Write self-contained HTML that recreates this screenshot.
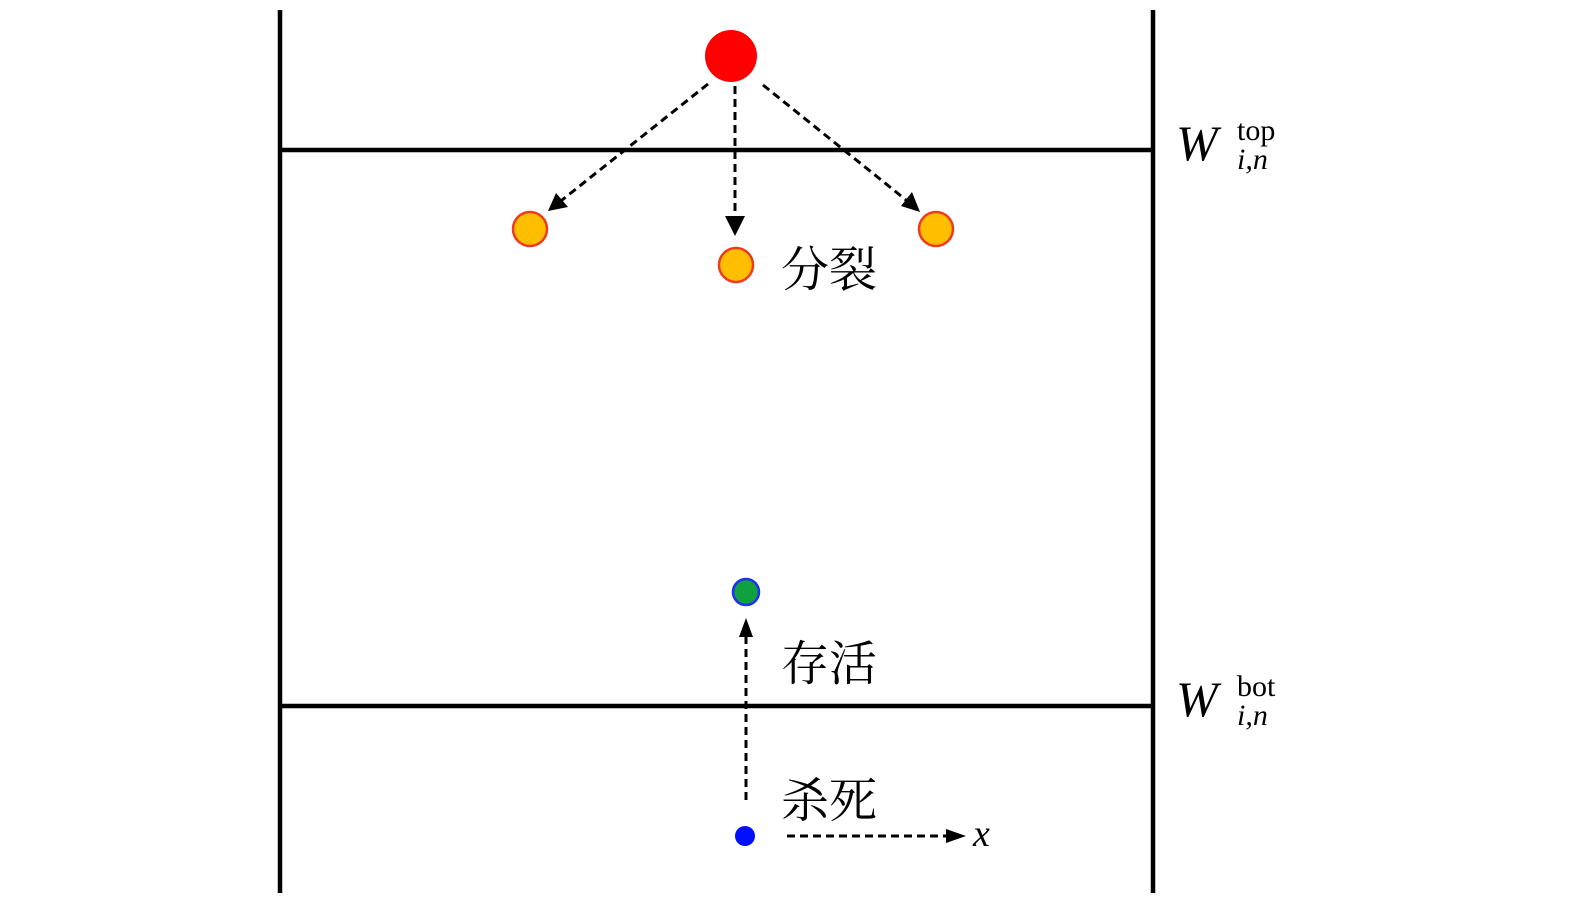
<!DOCTYPE html>
<html><head><meta charset="utf-8"><style>
html,body{margin:0;padding:0;background:#fff;}
svg{display:block;}
</style></head><body>
<svg width="1575" height="906" viewBox="0 0 1575 906" xmlns="http://www.w3.org/2000/svg">
<g stroke="#000" stroke-width="4.5" fill="none">
<line x1="280" y1="10" x2="280" y2="893"/>
<line x1="1153" y1="10" x2="1153" y2="893"/>
<line x1="280" y1="150" x2="1153" y2="150"/>
<line x1="280" y1="706" x2="1153" y2="706"/>
</g>
<g stroke="#000" stroke-width="3" stroke-dasharray="8,5" fill="none">
<line x1="708" y1="84" x2="552" y2="208"/>
<line x1="735" y1="86" x2="735" y2="225"/>
<line x1="763" y1="85" x2="916" y2="208"/>
<line x1="746" y1="800" x2="746" y2="630"/>
<line x1="787" y1="836" x2="955" y2="836"/>
</g>
<g fill="#000">
<path d="M548,211 L556,193 L568,207 z"/>
<path d="M725,216 L745,216 L735,236 z"/>
<path d="M920,212 L901,206 L912,192 z"/>
<path d="M746,618 L739,637 L753,637 z"/>
<path d="M966,836 L946,829 L946,843 z"/>
</g>
<circle cx="731" cy="56" r="26" fill="#f00"/>
<g fill="#ffbf00" stroke="#f03a20" stroke-width="2.5">
<circle cx="530" cy="229" r="17"/>
<circle cx="736" cy="265" r="17"/>
<circle cx="936" cy="229" r="17"/>
</g>
<circle cx="746" cy="592" r="13" fill="#10a040" stroke="#2030f0" stroke-width="2.5"/>
<circle cx="745" cy="836" r="10" fill="#0010ff"/>
<g font-family="'Noto Serif CJK SC','Noto Sans CJK SC',serif" font-size="48" fill="#000">
<text x="781" y="286">分裂</text>
<text x="781" y="680">存活</text>
<text x="781" y="817">杀死</text>
</g>
<g font-family="'Liberation Serif',serif" fill="#000">
<text x="973" y="846" font-size="38" font-style="italic">x</text>
<text x="1176" y="160" font-size="50" font-style="italic">W</text>
<text x="1237" y="140" font-size="30">top</text>
<text x="1237" y="169" font-size="30" font-style="italic">i,n</text>
<text x="1176" y="716" font-size="50" font-style="italic">W</text>
<text x="1237" y="696" font-size="30">bot</text>
<text x="1237" y="725" font-size="30" font-style="italic">i,n</text>
</g>
</svg>
</body></html>
